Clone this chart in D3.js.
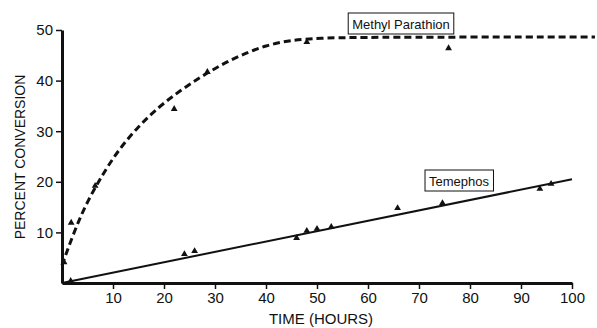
<!DOCTYPE html>
<html>
<head>
<meta charset="utf-8">
<script src="https://cdn.jsdelivr.net/npm/d3@7"></script>
<style>
  body { margin: 0; background: #fff; }
  text { font-family: "Liberation Sans", Arial, sans-serif; fill: #111; }
</style>
</head>
<body>
<svg></svg>
<script>
// observed points
let mpHours = [0.4, 1.8, 6.5, 22, 28.5, 48, 75.8];
let mpPct = [4.1, 11.9, 19.2, 34.4, 41.7, 47.6, 46.4];
let temHours = [1.7, 24, 26, 46, 48, 50, 52.8, 65.8, 74.6, 93.7, 95.9];
let temPct = [0.4, 5.7, 6.3, 8.9, 10.3, 10.7, 11.1, 14.8, 15.8, 18.6, 19.6];

// fitted curves
let mpCurveHours = [0, 2.5, 5, 8, 11, 15, 19, 23, 27, 31, 35, 40, 45, 50, 60, 104.5];
let mpCurvePct = [3.5, 10.5, 16.2, 21.5, 26.2, 31.0, 34.8, 37.9, 40.6, 43.0, 45.0, 47.0, 48.0, 48.4, 48.6, 48.6];
let temLineHours = [0, 100];
let temLinePct = [0, 20.5];

let xTicks = [10, 20, 30, 40, 50, 60, 70, 80, 90, 100];
let yTicks = [10, 20, 30, 40, 50];

let width = 597;
let height = 328;
let svg = d3.select("svg").attr("width", width).attr("height", height);

let xScale = d3.scaleLinear().domain([0, 100]).range([62, 572]);
let yScale = d3.scaleLinear().domain([0, 50]).range([283, 30]);

// axes
let xAxis = d3.axisBottom(xScale).tickValues(xTicks).tickSize(6).tickPadding(3).tickSizeOuter(0);
let yAxis = d3.axisLeft(yScale).tickValues(yTicks).tickSize(6).tickPadding(3).tickSizeOuter(0);

let gx = svg.append("g").attr("transform", "translate(0," + yScale(0) + ")").call(xAxis);
let gy = svg.append("g").attr("transform", "translate(" + xScale(0) + ",0)").call(yAxis);

[gx, gy].forEach(g => {
  g.select(".domain").attr("stroke", "#111").attr("stroke-width", 3);
  g.selectAll(".tick line").attr("stroke", "#111").attr("stroke-width", 1.5);
  g.selectAll(".tick text").attr("font-size", 15).attr("fill", "#111")
    .attr("font-family", "'Liberation Sans', Arial, sans-serif");
});

svg.append("text")
  .attr("x", 321).attr("y", 324)
  .attr("text-anchor", "middle").attr("font-size", 15)
  .text("TIME (HOURS)");

svg.append("text")
  .attr("transform", "translate(25,157) rotate(-90)")
  .attr("text-anchor", "middle").attr("font-size", 14)
  .text("PERCENT CONVERSION");

// curves
let mpLine = d3.line()
  .x((d, i) => xScale(mpCurveHours[i]))
  .y(d => yScale(d))
  .curve(d3.curveBasis);

svg.append("path")
  .attr("d", mpLine(mpCurvePct))
  .attr("fill", "none").attr("stroke", "#111")
  .attr("stroke-width", 3).attr("stroke-dasharray", "7,4");

let temLine = d3.line()
  .x((d, i) => xScale(temLineHours[i]))
  .y(d => yScale(d));

svg.append("path")
  .attr("d", temLine(temLinePct))
  .attr("fill", "none").attr("stroke", "#111").attr("stroke-width", 2);

// markers
let tri = d3.symbol().type(d3.symbolTriangle).size(20);

svg.selectAll(".mp").data(mpPct).join("path")
  .attr("class", "mp")
  .attr("d", tri)
  .attr("transform", (d, i) => "translate(" + xScale(mpHours[i]) + "," + yScale(d) + ")")
  .attr("fill", "#111");

svg.selectAll(".tem").data(temPct).join("path")
  .attr("class", "tem")
  .attr("d", tri)
  .attr("transform", (d, i) => "translate(" + xScale(temHours[i]) + "," + yScale(d) + ")")
  .attr("fill", "#111");

// labels in boxes
let labels = [
  { text: "Methyl Parathion", x: 401, y: 24 },
  { text: "Temephos", x: 459, y: 181 }
];

labels.forEach(l => {
  let g = svg.append("g");
  let rect = g.append("rect");
  let t = g.append("text")
    .attr("x", l.x).attr("y", l.y + 4.5)
    .attr("text-anchor", "middle").attr("font-size", 13)
    .text(l.text);
  let bb = t.node().getBBox();
  rect.attr("x", bb.x - 4).attr("y", l.y - 11)
    .attr("width", bb.width + 8).attr("height", 21)
    .attr("fill", "#fff").attr("stroke", "#111").attr("stroke-width", 1);
});
</script>
</body>
</html>
